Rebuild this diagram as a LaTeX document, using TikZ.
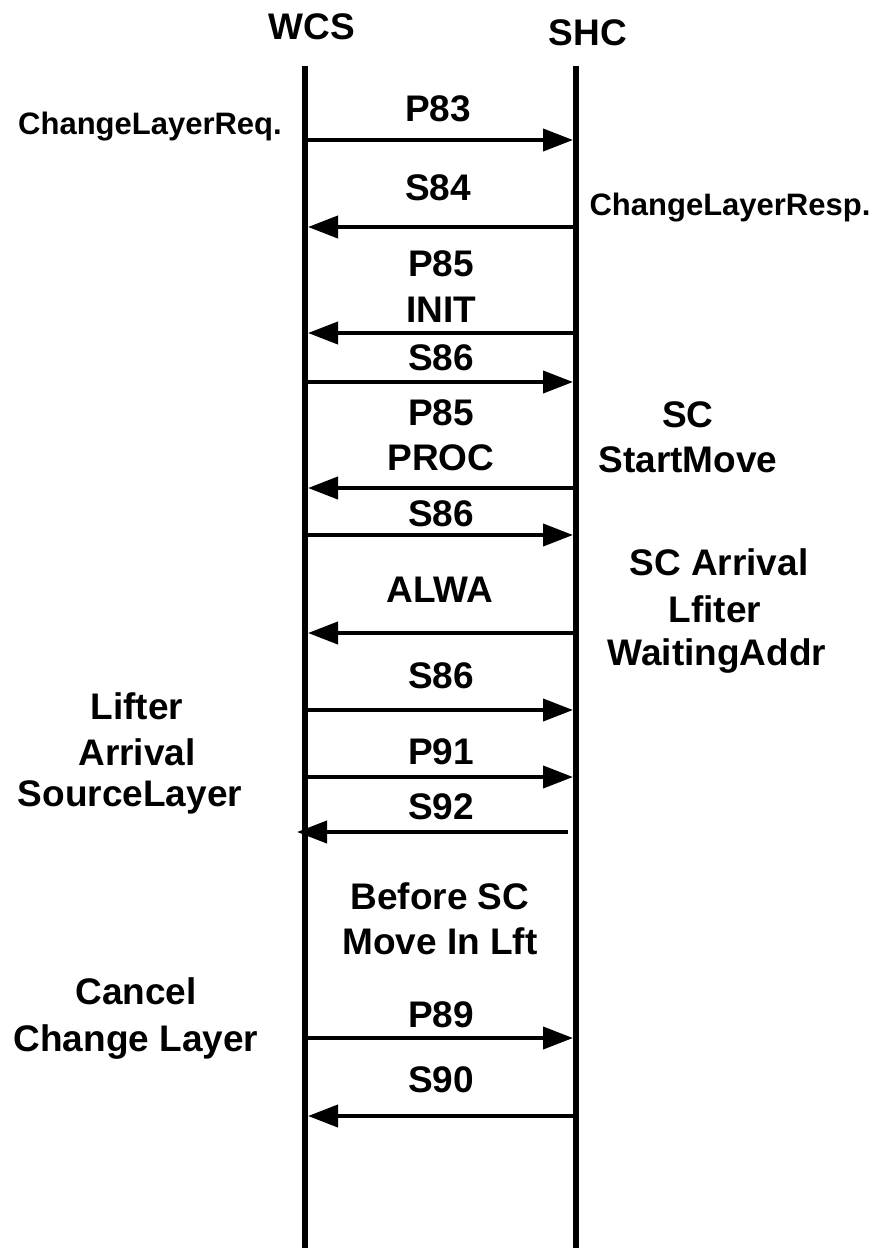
\documentclass[tikz,border=0pt]{standalone}
\usepackage{fontspec}
\setmainfont{Liberation Sans}
\usetikzlibrary{arrows.meta}
\begin{document}
\begin{tikzpicture}[x=1pt,y=-1pt,
  life/.style={line width=6pt},
  msg/.style={line width=4pt,-{Triangle[length=30pt,width=22pt]}},
  lbl/.style={font=\fontsize{37}{44}\selectfont\bfseries, anchor=base, inner sep=0pt},
  slbl/.style={font=\fontsize{31}{36}\selectfont\bfseries, anchor=base, inner sep=0pt}]
\useasboundingbox (0,0) rectangle (878,1248);
% lifelines
\coordinate (wtop) at (305,66);
\coordinate (wbot) at (305,1248);
\coordinate (stop) at (576,66);
\coordinate (sbot) at (576,1248);
\draw[life] (wtop) -- (wbot);
\draw[life] (stop) -- (sbot);
\node[lbl] (wcs) at (312,39) {WCS};
\node[lbl] (shc) at (588,45) {SHC};
% message end points
\foreach \i/\y in {1/140,2/227,3/333,4/382,5/488,6/535,7/633,8/710,9/777,11/1038,12/1116}{
  \coordinate (w\i) at (308,\y);
  \coordinate (s\i) at (573,\y);
}
\coordinate (w10) at (297,832);
\coordinate (s10) at (568,832);
% messages
\draw[msg] (w1) -- (s1);
\draw[msg] (s2) -- (w2);
\draw[msg] (s3) -- (w3);
\draw[msg] (w4) -- (s4);
\draw[msg] (s5) -- (w5);
\draw[msg] (w6) -- (s6);
\draw[msg] (s7) -- (w7);
\draw[msg] (w8) -- (s8);
\draw[msg] (w9) -- (s9);
\draw[msg] (s10) -- (w10);
\draw[msg] (w11) -- (s11);
\draw[msg] (s12) -- (w12);
% message labels
\node[lbl] (l1) at (438,121) {P83};
\node[lbl] (l2) at (438,200) {S84};
\node[lbl] (l3a) at (441,276) {P85};
\node[lbl] (l3b) at (441,322) {INIT};
\node[lbl] (l4) at (441,370) {S86};
\node[lbl] (l5a) at (441,425) {P85};
\node[lbl] (l5b) at (441,470) {PROC};
\node[lbl] (l6) at (441,526) {S86};
\node[lbl] (l7) at (440,602) {ALWA};
\node[lbl] (l8) at (441,688) {S86};
\node[lbl] (l9) at (441,764) {P91};
\node[lbl] (l10) at (441,819) {S92};
\node[lbl] (l11) at (441,1027) {P89};
\node[lbl] (l12) at (441,1092) {S90};
% side notes
\node[slbl] (req) at (150,134) {ChangeLayerReq.};
\node[slbl] (resp) at (730,215) {ChangeLayerResp.};
\node[lbl] (sc1) at (688,427) {SC};
\node[lbl] (sc2) at (688,472) {StartMove};
\node[lbl] (arr1) at (719,575) {SC Arrival};
\node[lbl] (arr2) at (715,622) {Lfiter};
\node[lbl] (arr3) at (717,665) {WaitingAddr};
\node[lbl] (lif1) at (137,719) {Lifter};
\node[lbl] (lif2) at (137,765) {Arrival};
\node[lbl] (lif3) at (130,806) {SourceLayer};
\node[lbl] (bef1) at (440,909) {Before SC};
\node[lbl] (bef2) at (440,954) {Move In Lft};
\node[lbl] (can1) at (136,1004) {Cancel};
\node[lbl] (can2) at (136,1051) {Change Layer};
\end{tikzpicture}
\end{document}
